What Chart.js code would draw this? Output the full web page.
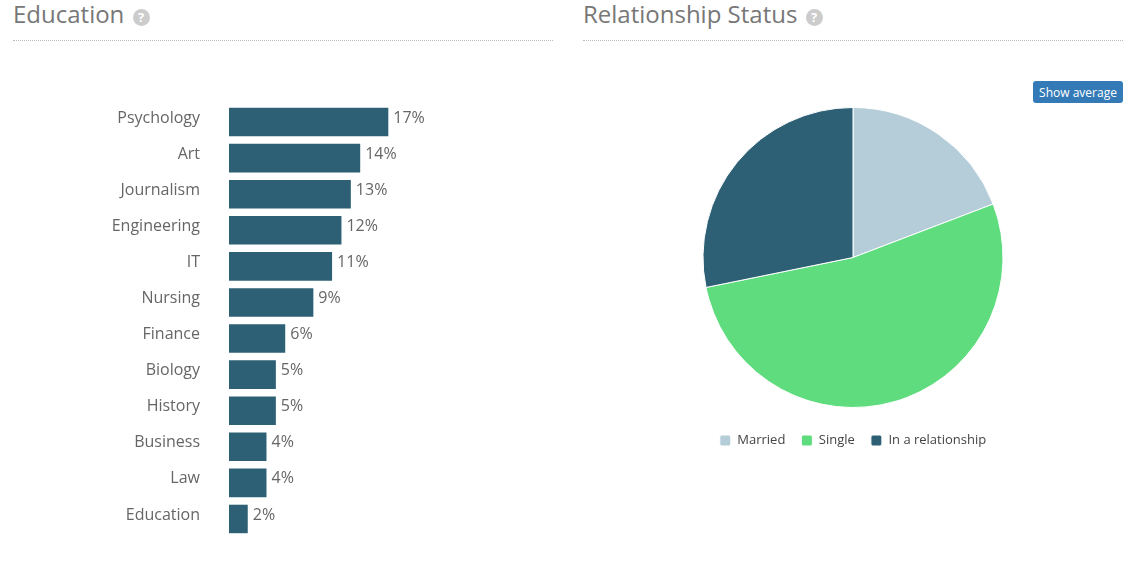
<!DOCTYPE html>
<html lang="en">
<head>
    <meta charset="UTF-8">
    <title>Education and Relationship Status</title>
    <script src="https://cdn.jsdelivr.net/npm/chart.js"></script>
    <style>
        body {
            font-family: "Open Sans", sans-serif;
            background-color: #fff;
            margin: 0;
            width: 1134px;
            height: 566px;
            position: relative;
            overflow: hidden;
        }
        h2 {
            position: absolute;
            top: 0;
            margin: 0;
            width: 540px;
            height: 40px;
            line-height: 27px;
            font-size: 24px;
            font-weight: 400;
            color: #777;
            border-bottom: 1px dotted #bbb;
        }
        h2 .help {
            display: inline-block;
            width: 17px;
            height: 17px;
            line-height: 17px;
            margin-left: 2px;
            border-radius: 50%;
            background-color: #ccc;
            color: #fff;
            font-size: 13px;
            font-weight: 700;
            text-align: center;
            vertical-align: 1px;
        }
        #education-title { left: 13px; }
        #status-title { left: 583px; }
        .holder { position: absolute; }
        #education-holder { left: 0; top: 0; width: 557px; height: 566px; }
        #status-holder { left: 583px; top: 97px; width: 540px; height: 360px; }
        #show-average {
            position: absolute;
            left: 1033px;
            top: 81px;
            width: 90px;
            height: 22px;
            padding: 0;
            border: none;
            border-radius: 3px;
            background-color: #337ab7;
            color: #fff;
            font-family: inherit;
            font-size: 12px;
        }
    </style>
</head>
<body>
    <h2 id="education-title">Education <span class="help">?</span></h2>
    <h2 id="status-title">Relationship Status <span class="help">?</span></h2>
    <button id="show-average">Show average</button>
    <div class="holder" id="education-holder"><canvas id="education-chart"></canvas></div>
    <div class="holder" id="status-holder"><canvas id="status-chart"></canvas></div>

    <script>
        var educationLabels = ['Psychology', 'Art', 'Journalism', 'Engineering', 'IT', 'Nursing', 'Finance', 'Biology', 'History', 'Business', 'Law', 'Education'];
        var educationValues = [17, 14, 13, 12, 11, 9, 6, 5, 5, 4, 4, 2];
        var statusLabels = ['Married', 'Single', 'In a relationship'];
        var statusValues = [19.2, 52.6, 28.2];
        var statusColors = ['#b5cdd8', '#5fdc7d', '#2d6075'];

        // percent labels to the right of each bar, sitting a little above its centre
        var percentLabels = {
            id: 'percentLabels',
            afterDatasetsDraw: function(chart) {
                var ctx = chart.ctx;
                ctx.save();
                ctx.font = '16px "Open Sans"';
                ctx.fillStyle = '#666';
                ctx.textBaseline = 'middle';
                chart.getDatasetMeta(0).data.forEach(function(bar, i) {
                    ctx.fillText(educationValues[i] + '%', bar.x + 5, bar.y - 4);
                });
                ctx.restore();
            }
        };

        new Chart(document.getElementById('education-chart'), {
            type: 'bar',
            plugins: [percentLabels],
            data: {
                labels: educationLabels,
                datasets: [{
                    data: educationValues,
                    backgroundColor: '#2d6075',
                    categoryPercentage: 1,
                    barPercentage: 0.79
                }]
            },
            options: {
                indexAxis: 'y',
                responsive: true,
                maintainAspectRatio: false,
                animation: false,
                layout: { padding: { top: 104, bottom: 6 } },
                plugins: { legend: { display: false }, tooltip: { enabled: false } },
                scales: {
                    x: { display: false, min: 0, max: 35 },
                    y: {
                        afterFit: function(scale) { scale.width = 229; },
                        grid: { display: false },
                        border: { display: false },
                        ticks: {
                            color: '#666',
                            padding: 21,
                            autoSkip: false,
                            font: { family: 'Open Sans', size: 16, lineHeight: '8px' },
                            // the empty second line lifts the label 4px off the bar centre
                            callback: function(value) {
                                return [this.getLabelForValue(value), ''];
                            }
                        }
                    }
                }
            }
        });

        new Chart(document.getElementById('status-chart'), {
            type: 'pie',
            data: {
                labels: statusLabels,
                datasets: [{
                    data: statusValues,
                    backgroundColor: statusColors,
                    borderColor: '#fff',
                    borderWidth: 1,
                    radius: 150
                }]
            },
            options: {
                responsive: true,
                maintainAspectRatio: false,
                animation: false,
                plugins: {
                    tooltip: { enabled: false },
                    legend: {
                        position: 'bottom',
                        labels: {
                            color: '#444',
                            boxWidth: 11,
                            boxHeight: 11,
                            padding: 16,
                            useBorderRadius: true,
                            borderRadius: 2,
                            font: { family: 'Open Sans', size: 13 }
                        }
                    }
                }
            }
        });
    </script>
</body>
</html>
